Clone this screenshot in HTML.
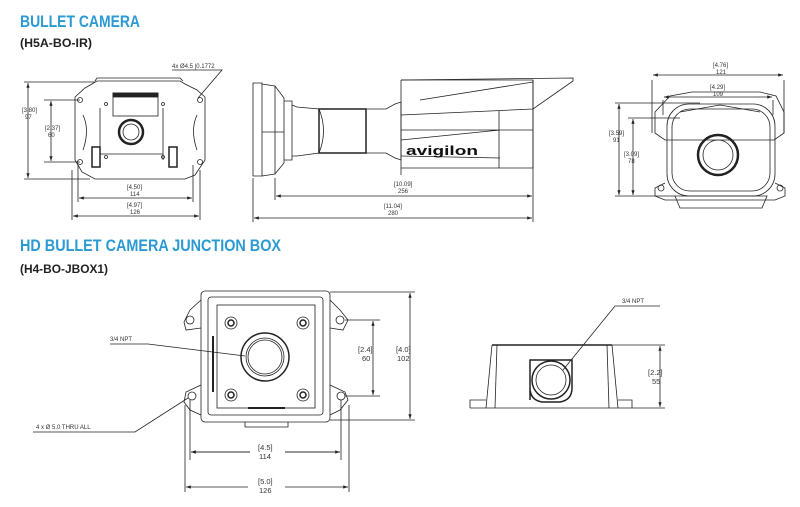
<!DOCTYPE html>
<html><head><meta charset="utf-8"><style>
html,body{margin:0;padding:0;background:#fff;width:800px;height:507px;overflow:hidden}
svg{display:block}
.t{font-family:"Liberation Sans Narrow","Liberation Sans",sans-serif;font-weight:bold}
.s{font-family:"Liberation Sans",sans-serif;font-size:6px;fill:#333}
.m{font-family:"Liberation Sans",sans-serif;font-size:7.5px;fill:#333}
</style></head><body>
<svg width="800" height="507" viewBox="0 0 800 507" xmlns="http://www.w3.org/2000/svg">
<defs>
<marker id="a" markerWidth="6" markerHeight="6" refX="6" refY="3" orient="auto-start-reverse"><path d="M0,1 L6,3 L0,5z" fill="#222"/></marker>
</defs>
<rect width="800" height="507" fill="#fff"/>
<text class="t" x="20" y="27" font-size="17" fill="#2b9ad2" textLength="120" lengthAdjust="spacingAndGlyphs">BULLET CAMERA</text>
<text class="t" x="20" y="47" font-size="12" fill="#222" textLength="72" lengthAdjust="spacingAndGlyphs">(H5A-BO-IR)</text>
<text class="t" x="20" y="251" font-size="17" fill="#2b9ad2" textLength="261" lengthAdjust="spacingAndGlyphs">HD BULLET CAMERA JUNCTION BOX</text>
<text class="t" x="20" y="273" font-size="12" fill="#222" textLength="88" lengthAdjust="spacingAndGlyphs">(H4-BO-JBOX1)</text>

<g fill="none" stroke="#222" stroke-width="0.8">
<!-- front camera plate -->
<path d="M97,81 L180,81 L185,84 L197,90 L205,97 L205,160 L195,175 L185,179 L95,179 L82,172 L75,160 L75,97 L85,88 Z"/>
<path d="M95,81 L97,78 L180,78 L183,81"/>
<rect x="113" y="93" width="45" height="23" fill="#fff"/>
<rect x="113" y="93" width="45" height="4" fill="#222"/>
<circle cx="131" cy="132" r="12" stroke-width="2.5"/><circle cx="131" cy="132" r="8"/>
<path d="M100,108 L100,160 M163,108 L163,160 M100,154 L163,154"/>
<rect x="92" y="147" width="8" height="20" stroke-width="1.5"/><rect x="169" y="147" width="8" height="20" stroke-width="1.5"/>
<path d="M83,115 Q90,130 83,150 M197,115 Q190,130 197,150"/>
<circle cx="80" cy="100" r="2.5"/><circle cx="200" cy="100" r="2.5"/><circle cx="80" cy="162" r="2.5"/><circle cx="200" cy="162" r="2.5"/>
<circle cx="106" cy="104" r="1.5"/><circle cx="163" cy="104" r="1.5"/><circle cx="106" cy="157" r="1.5"/><circle cx="163" cy="157" r="1.5"/>
<!-- dims -->
<path d="M24,82 L95,82 M24,179 L90,179 M44,100 L80,100 M44,162 L80,162"/>
<path d="M28,83 L28,178" marker-start="url(#a)" marker-end="url(#a)"/>
<path d="M51,101 L51,161" marker-start="url(#a)" marker-end="url(#a)"/>
<path d="M78,165 L78,202 M193,165 L193,202 M72,170 L72,220 M200,170 L200,220"/>
<path d="M79,198 L192,198" marker-start="url(#a)" marker-end="url(#a)"/>
<path d="M73,216 L199,216" marker-start="url(#a)" marker-end="url(#a)"/>
<path d="M172,70 L222,70 L198,98"/>

<!-- side view -->
<path d="M253,83 L262,83 L262,176 L253,176 Z"/>
<path d="M262,84 L275,86 L284,98 L284,163 L275,174 L262,176"/>
<path d="M275,86 L275,174 M262,132 L284,132"/>
<path d="M284,101 L292,101 L292,160 L284,160 M292,105 L297,107 L319,109 L319,153 L297,156 L292,156"/>
<rect x="319" y="109" width="47" height="44" stroke-width="1.5"/>
<path d="M319,109 Q328,131 319,153 M366,109 L386,109 L395,104 L401,102 L401,160 L395,158 L386,153 L366,153"/>
<path d="M401,80 L533,80 L533,168 L401,168 M401,80 L401,168"/>
<path d="M401,80 L573,78 L573,81 L533,109 L401,115 M533,82 L420,100"/>
<path d="M401,130 L533,130 M401,140 L500,130 M401,156 L500,158 M499,111 L499,168"/>
<path d="M401,168 L401,175"/>
<path d="M275,178 L275,200 M253,178 L253,222 M533,80 L533,222"/>
<path d="M276,196 L532,196" marker-start="url(#a)" marker-end="url(#a)"/>
<path d="M254,218 L532,218" marker-start="url(#a)" marker-end="url(#a)"/>

<!-- rear view -->
<path d="M655,133 L655,112 L670,96 L692,92 L760,92 L776,96 L784,112 L784,133 L774,140 L665,140 Z"/>
<rect x="667" y="104" width="108" height="92" rx="22"/>
<rect x="672" y="109" width="98" height="82" rx="18"/>
<path d="M680,112 L720,105 L760,112 M665,183 L655,188 L655,196 L665,200 L775,200 L785,196 L785,188 L775,183"/>
<circle cx="661" cy="188" r="3"/><circle cx="780" cy="188" r="3"/>
<path d="M675,196 L767,196 L762,208 L680,208 Z"/>
<circle cx="718" cy="155" r="20" stroke-width="2.5"/><circle cx="718" cy="155" r="15"/>
<path d="M652,80 L652,133 M784,80 L784,133 M663,100 L663,115 M773,100 L773,115"/>
<path d="M653,75 L783,75" marker-start="url(#a)" marker-end="url(#a)"/>
<path d="M664,97 L772,97" marker-start="url(#a)" marker-end="url(#a)"/>
<path d="M615,103 L700,103 M628,118 L680,118 M615,196 L675,196"/>
<path d="M619,104 L619,195" marker-start="url(#a)" marker-end="url(#a)"/>
<path d="M633,119 L633,195" marker-start="url(#a)" marker-end="url(#a)"/>

<!-- junction box front -->
<path d="M201,300 L190,310 L184,322 L186,330 L201,328"/>
<path d="M201,385 L186,392 L184,402 L190,410 L201,415"/>
<path d="M330,300 L340,310 L348,320 L343,330 L330,328"/>
<path d="M330,385 L345,392 L348,400 L340,410 L330,415"/>
<circle cx="190" cy="320" r="4"/><circle cx="192" cy="396" r="4"/><circle cx="340" cy="320" r="4"/><circle cx="341" cy="396" r="4"/>
<rect x="201" y="291" width="129" height="131" rx="4"/>
<rect x="208" y="297" width="115" height="118" rx="3"/>
<rect x="217" y="305" width="98" height="103"/>
<path d="M213,336 L213,392" stroke-width="2"/>
<path d="M248,408 L285,408" stroke-width="2"/>
<path d="M245,422 L245,427 L288,427 L288,422"/>
<circle cx="231" cy="323" r="6"/><circle cx="231" cy="323" r="3" stroke-width="1.5"/>
<circle cx="303" cy="323" r="6"/><circle cx="303" cy="323" r="3" stroke-width="1.5"/>
<circle cx="231" cy="395" r="6"/><circle cx="231" cy="395" r="3" stroke-width="1.5"/>
<circle cx="303" cy="395" r="6"/><circle cx="303" cy="395" r="3" stroke-width="1.5"/>
<circle cx="265" cy="357" r="24" stroke-width="1.5"/><circle cx="265" cy="357" r="19"/><circle cx="265" cy="357" r="17"/>
<path d="M110,344 L148,344 L245,356"/>
<path d="M33,432 L135,432 L188,398"/>
<path d="M330,292 L415,292 M330,420 L415,420 M345,320 L380,320 M345,396 L380,396"/>
<path d="M410,293 L410,419" marker-start="url(#a)" marker-end="url(#a)"/>
<path d="M373,321 L373,395" marker-start="url(#a)" marker-end="url(#a)"/>
<path d="M190,400 L190,460 M341,400 L341,460 M185,405 L185,492 M349,405 L349,492"/>
<path d="M191,452 L250,452 M285,452 L340,452" marker-start="url(#a)"/>
<path d="M191,452 L250,452" marker-start="url(#a)"/><path d="M340,452 L285,452" marker-start="url(#a)"/>
<path d="M186,487 L248,487" marker-start="url(#a)"/><path d="M348,487 L285,487" marker-start="url(#a)"/>

<!-- junction box side -->
<path d="M492,345 L612,345" stroke-width="1.5"/>
<path d="M492,345 L486,408 M497,345 L495,408 M612,345 L618,408 M607,345 L609,408"/>
<path d="M470,408 L632,408 M470,408 L470,400 L486,400 M632,408 L632,400 L618,400"/>
<path d="M530,400 L530,360 L572,360 L572,388 Q572,400 560,402 L542,402 Q530,400 530,388" stroke-width="1.5"/>
<circle cx="551" cy="380" r="19" stroke-width="1.5"/><circle cx="551" cy="380" r="15"/>
<path d="M660,306 L615,306 L563,370"/>
<path d="M612,345 L665,345 M632,408 L665,408"/>
<path d="M660,346 L660,407" marker-start="url(#a)" marker-end="url(#a)"/>
</g>

<g>
<text class="s" x="172" y="68">4x  Ø4.5  |0.1772</text>
<text class="s" x="22" y="112">[3.80]</text><text class="s" x="25" y="119">97</text>
<text class="s" x="45" y="130">[2.37]</text><text class="s" x="48" y="137">60</text>
<text class="s" x="127" y="189">[4.50]</text><text class="s" x="130" y="196">114</text>
<text class="s" x="127" y="207">[4.97]</text><text class="s" x="130" y="214">126</text>
<text class="s" x="394" y="186">[10.09]</text><text class="s" x="398" y="193">256</text>
<text class="s" x="384" y="208">[11.04]</text><text class="s" x="388" y="215">280</text>
<text class="s" x="713" y="67">[4.76]</text><text class="s" x="716" y="74">121</text>
<text class="s" x="710" y="89">[4.29]</text><text class="s" x="713" y="96">109</text>
<text class="s" x="609" y="135">[3.59]</text><text class="s" x="613" y="142">91</text>
<text class="s" x="624" y="156">[3.09]</text><text class="s" x="628" y="163">78</text>
<text class="m" x="205" y="318" font-size="1"> </text>
<text class="s" x="110" y="341">3/4 NPT</text>
<text class="s" x="36" y="429">4 x Ø 5.0 THRU ALL</text>
<text class="m" x="358" y="352">[2.4]</text><text class="m" x="362" y="361">60</text>
<text class="m" x="396" y="352">[4.0]</text><text class="m" x="397" y="361">102</text>
<text class="m" x="258" y="450">[4.5]</text><text class="m" x="259" y="459">114</text>
<text class="m" x="258" y="484">[5.0]</text><text class="m" x="259" y="493">126</text>
<text class="s" x="622" y="303">3/4 NPT</text>
<text class="m" x="648" y="375">[2.2]</text><text class="m" x="652" y="384">55</text>
<text x="406" y="155" font-family="Liberation Sans,sans-serif" font-weight="bold" font-size="13" fill="#111" textLength="72" lengthAdjust="spacingAndGlyphs">avigilon</text>
</g>
</svg>
</body></html>
